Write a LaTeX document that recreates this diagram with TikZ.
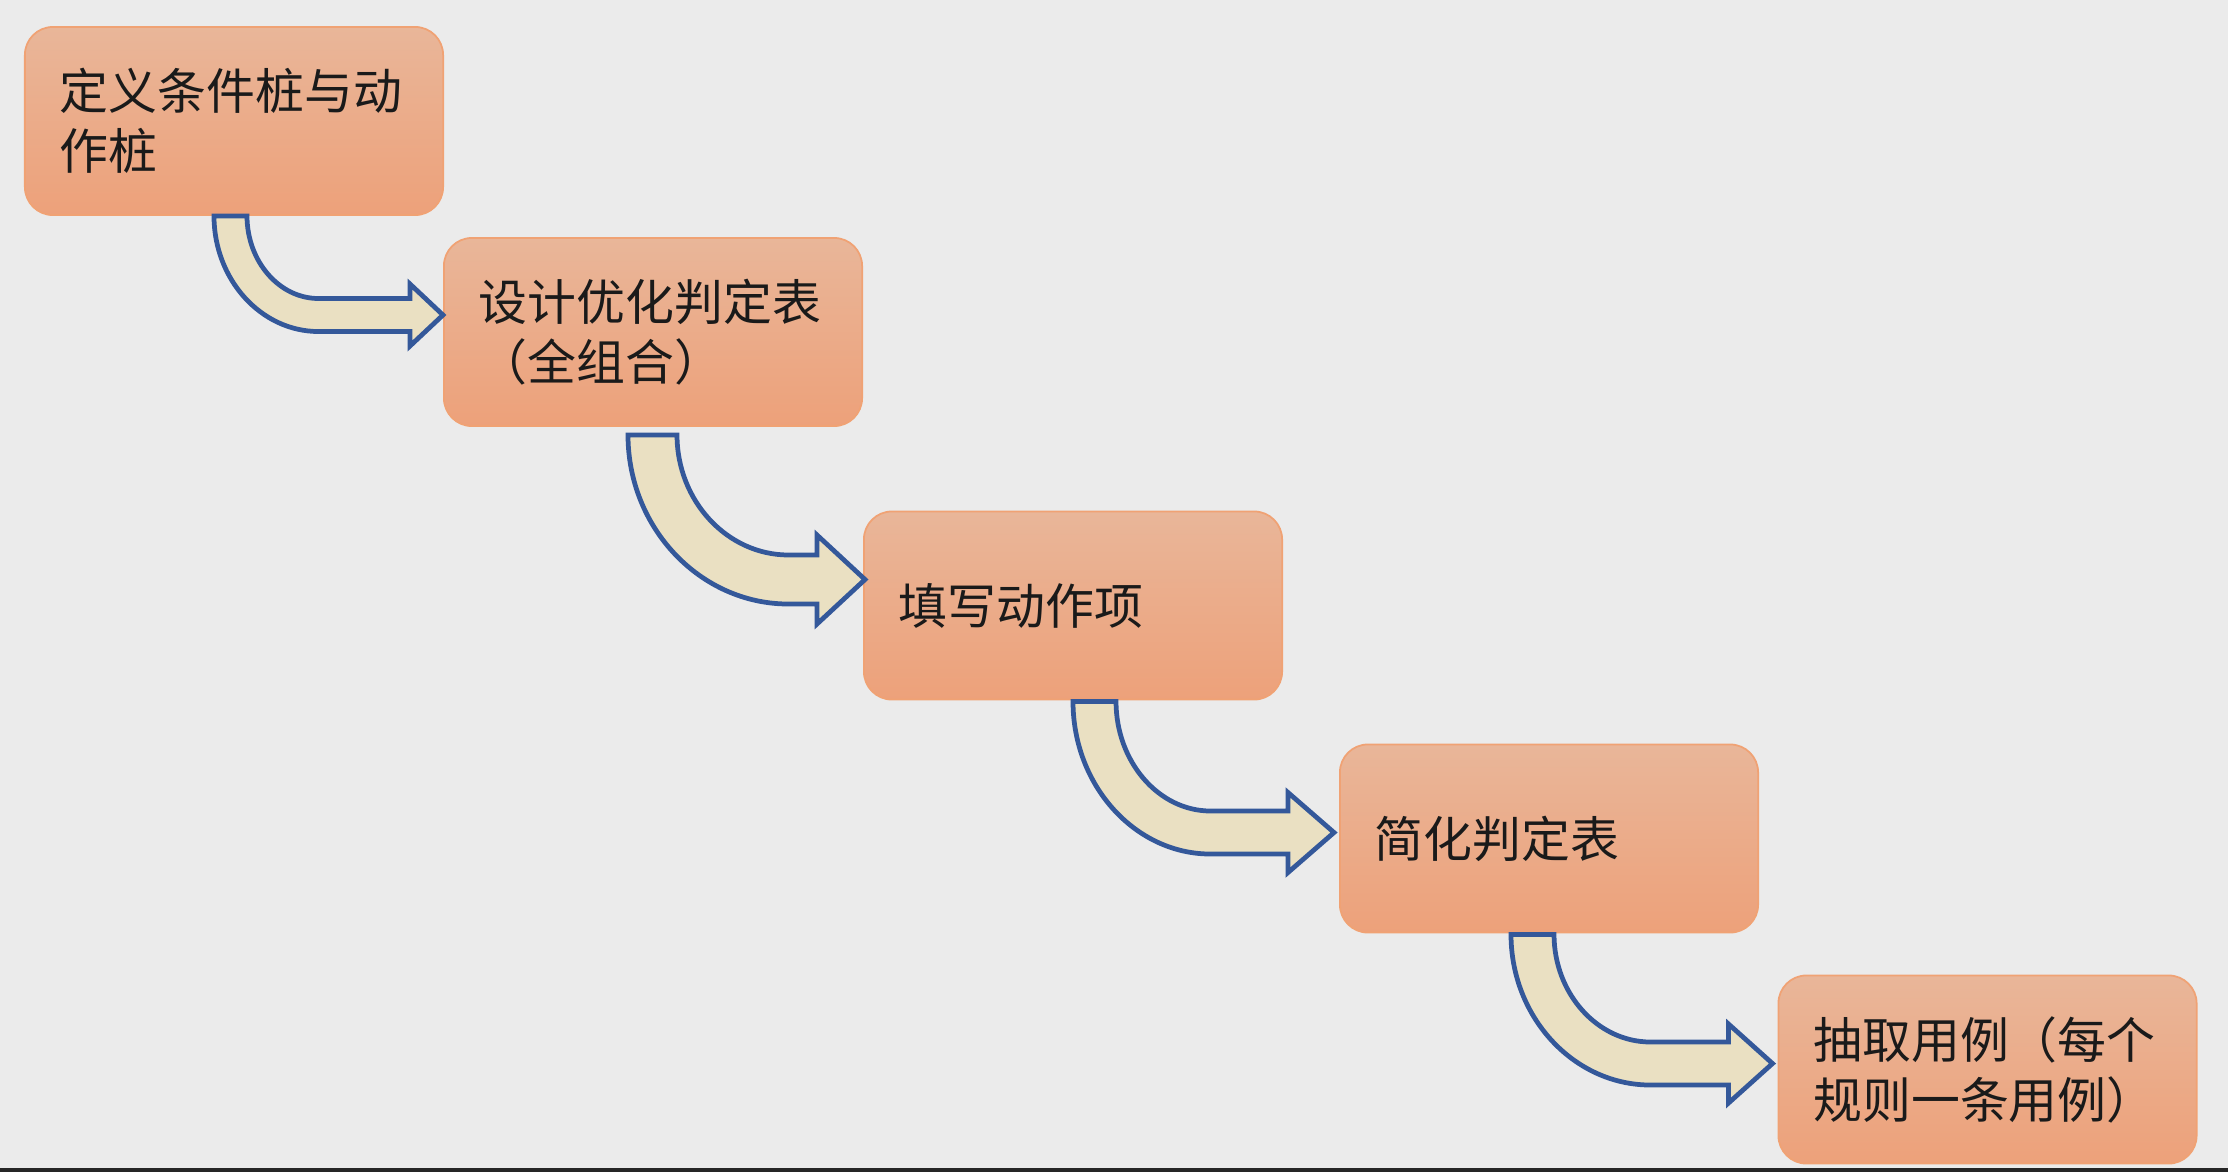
\documentclass[tikz,border=0pt]{standalone}
\usepackage{fontspec}
\setmainfont{Noto Sans CJK SC}
\usetikzlibrary{calc}
\definecolor{pagebg}{HTML}{EBEBEB}
\definecolor{boxtop}{HTML}{E9B699}
\definecolor{boxbot}{HTML}{EDA17A}
\definecolor{boxline}{HTML}{F0A274}
\definecolor{arrowfill}{HTML}{EAE0C2}
\definecolor{arrowline}{HTML}{34589A}
\definecolor{inktext}{HTML}{1A1A1A}
\definecolor{bottombar}{HTML}{262626}
\tikzset{
  stepbox/.style={draw=boxline, line width=0.5pt, rounded corners=0.28cm,
    top color=boxtop, bottom color=boxbot,
    minimum width=4.18cm, minimum height=1.88cm, text width=3.48cm, inner xsep=0.35cm,
    align=left, text=inktext, font=\fontsize{13.9pt}{17.1pt}\selectfont},
  flowarrow/.style={fill=arrowfill, draw=arrowline, line width=1.35pt, line join=miter}
}
% curved block arrow: tail, tip, half shaft width, half head height, head length, bend (px)
\newcommand{\bentarrow}[6]{%
  \path[flowarrow] let \p1=(#1), \p2=(#2), \p3=($(#1)+(#6,0)$) in
    (\x1-#3,\y1) -- (\x1+#3,\y1)
    .. controls (\x1+#3,{\y1-0.55*(\y1-\y2-#3)}) and ({\x3-0.55*(\x3-\x1-#3)},\y2+#3) .. (\x3,\y2+#3)
    -- (\x2-#5,\y2+#3) -- (\x2-#5,\y2+#4) -- (\x2,\y2) -- (\x2-#5,\y2-#4) -- (\x2-#5,\y2-#3)
    -- (\x3,\y2-#3)
    .. controls ({\x3-0.55*(\x3-\x1+#3)},\y2-#3) and (\x1-#3,{\y1-0.55*(\y1-\y2+#3)}) .. (\x1-#3,\y1)
    -- cycle;}
\begin{document}
\begin{tikzpicture}[x=0.01cm, y=-0.01cm]
\fill[pagebg] (0,0) rectangle (2228,1172);
\useasboundingbox (0,0) rectangle (2228,1172);
\fill[bottombar] (0,1168) rectangle (2228,1172);

% steps
\node[stepbox] (define) at (234,121) {定义条件桩与动\\作桩};
\node[stepbox] (design) at (653,332) {设计优化判定表\\（全组合）};
\node[stepbox] (fill) at (1073,605.5) {填写动作项};
\node[stepbox] (simplify) at (1549,838.5) {简化判定表};
\node[stepbox] (extract) at (1987.5,1069.5) {抽取用例（每个\\规则一条用例）};

% arrow ends
\coordinate (a1s) at ($(define.south)+(-3.5,0)$);
\coordinate (a1e) at ($(design.west)+(0,-17)$);
\coordinate (a2s) at ($(design.south)+(-0.5,8)$);
\coordinate (a2e) at ($(fill.west)+(2,-26)$);
\coordinate (a3s) at ($(fill.south)+(21.5,1)$);
\coordinate (a3e) at ($(simplify.west)+(-5,-6)$);
\coordinate (a4s) at ($(simplify.south)+(-16.5,1)$);
\coordinate (a4e) at ($(extract.west)+(-5,-6)$);

\bentarrow{a1s}{a1e}{0.165cm}{0.31cm}{0.33cm}{88}
\bentarrow{a2s}{a2e}{0.245cm}{0.445cm}{0.48cm}{136}
\bentarrow{a3s}{a3e}{0.215cm}{0.40cm}{0.46cm}{116}
\bentarrow{a4s}{a4e}{0.215cm}{0.395cm}{0.44cm}{118}
\end{tikzpicture}
\end{document}
